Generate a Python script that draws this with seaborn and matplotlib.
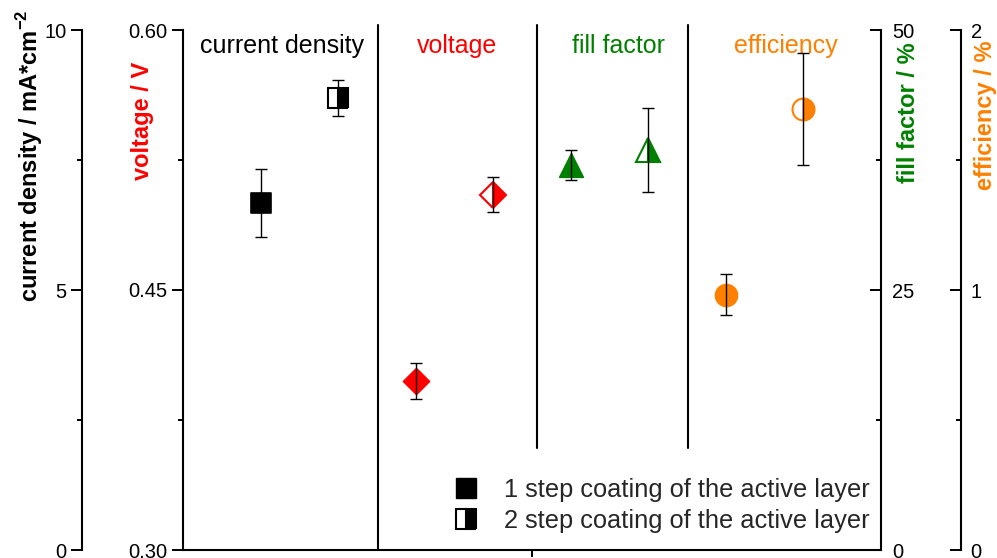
import matplotlib
matplotlib.use("Agg")
import matplotlib.pyplot as plt
from matplotlib.lines import Line2D
import seaborn as sns
import pandas as pd

# ---- data: 1-step vs 2-step coating of the active layer ----
coating = ["1 step coating of the active layer", "2 step coating of the active layer"]
current_density = [6.67, 8.69]          # mA*cm^-2
current_density_err = [0.65, 0.34]
voltage = [0.3975, 0.505]               # V
voltage_err = [0.0101, 0.0101]
fill_factor = [37.0, 38.46]             # %
fill_factor_err = [1.44, 4.04]
efficiency = [0.981, 1.696]             # %
efficiency_err = [0.079, 0.215]

x_current = [1, 2]
x_voltage = [3, 4]
x_fill = [5, 6]
x_eff = [7, 8]

section_titles = ["current density", "voltage", "fill factor", "efficiency"]
section_title_x = [1.28, 3.53, 5.62, 7.77]
separators_x = [2.514, 4.564, 6.51]

RED = "#FF0000"
GREEN = "#008000"
ORANGE = "#FF8000"
BLACK = "#000000"

sns.set_theme(style="ticks")
plt.rcParams["font.family"] = ["Liberation Sans", "DejaVu Sans"]
plt.rcParams["mathtext.fontset"] = "custom"
plt.rcParams["mathtext.rm"] = "Liberation Sans"
plt.rcParams["mathtext.bf"] = "Liberation Sans:bold"

W, H = 997, 558
fig = plt.figure(figsize=(W / 100, H / 100), dpi=100)
L, R, T, B = 183, 881, 30, 550
ax = fig.add_axes([L / W, (H - B) / H, (R - L) / W, (B - T) / H])
ax.set_xlim(0, 9)

ax_j = ax.twinx()
ax_ff = ax.twinx()
ax_eff = ax.twinx()

for a in (ax, ax_j, ax_ff, ax_eff):
    a.set_xlim(0, 9)
    a.set_facecolor("none")
    for s in a.spines.values():
        s.set_visible(False)
        s.set_linewidth(1.5)
        s.set_color(BLACK)

TICK_FS = 14.5
major_kw = dict(which="major", length=8, width=1.4, color=BLACK, labelsize=TICK_FS, labelcolor=BLACK)
minor_kw = dict(which="minor", length=3.6, width=1.4, color=BLACK)

# voltage: main left axis
ax.set_ylim(0.30, 0.60)
ax.set_yticks([0.30, 0.45, 0.60])
ax.set_yticks([0.375, 0.525], minor=True)
ax.set_yticklabels(["0.30", "0.45", "0.60"])
ax.spines["left"].set_visible(True)
ax.spines["bottom"].set_visible(True)
ax.tick_params(axis="y", direction="out", pad=3, **major_kw)
ax.tick_params(axis="y", direction="out", **minor_kw)
ax.set_xticks([4.5])
ax.set_xticklabels([])
ax.tick_params(axis="x", direction="out", length=5, width=1.4, color=BLACK)

# current density: outer left axis
ax_j.set_ylim(0, 10)
ax_j.yaxis.set_ticks_position("left")
ax_j.spines["left"].set_visible(True)
ax_j.spines["left"].set_position(("axes", -0.1447))
ax_j.set_yticks([0, 5, 10])
ax_j.set_yticks([2.5, 7.5], minor=True)
ax_j.tick_params(axis="y", direction="out", pad=3, left=True, right=False,
                 labelleft=True, labelright=False, **major_kw)
ax_j.tick_params(axis="y", direction="out", left=True, right=False, **minor_kw)
ax_j.tick_params(axis="x", bottom=False, labelbottom=False)

# fill factor: right axis
ax_ff.set_ylim(0, 50)
ax_ff.spines["right"].set_visible(True)
ax_ff.set_yticks([0, 25, 50])
ax_ff.set_yticks([12.5, 37.5], minor=True)
ax_ff.tick_params(axis="y", direction="in", pad=8, **major_kw)
ax_ff.tick_params(axis="y", direction="in", **minor_kw)
ax_ff.tick_params(axis="x", bottom=False, labelbottom=False)

# efficiency: outer right axis
ax_eff.set_ylim(0, 2)
ax_eff.spines["right"].set_visible(True)
ax_eff.spines["right"].set_position(("axes", 1.1146))
ax_eff.set_yticks([0, 1, 2])
ax_eff.set_yticks([0.5, 1.5], minor=True)
ax_eff.tick_params(axis="y", direction="in", pad=7, **major_kw)
ax_eff.tick_params(axis="y", direction="in", **minor_kw)
ax_eff.tick_params(axis="x", bottom=False, labelbottom=False)

# ---- markers ----
def draw_pair(a, xs, ys, errs, marker, color, s_full, ms_half):
    df = pd.DataFrame({"x": xs[:1], "y": ys[:1]})
    sns.scatterplot(data=df, x="x", y="y", marker=marker, s=s_full, color=color,
                    edgecolor=color, linewidth=1.2, ax=a, zorder=3, legend=False)
    a.plot(xs[1:], ys[1:], ls="none", marker=marker, ms=ms_half, fillstyle="right",
           markerfacecolor=color, markerfacecoloralt="white", markeredgecolor=color,
           mew=1.5, zorder=3)
    a.errorbar(xs, ys, yerr=errs, fmt="none", ecolor=BLACK, elinewidth=1,
               capsize=4, capthick=1, zorder=4)
    a.set_xlabel("")
    a.set_ylabel("")

draw_pair(ax_j, x_current, current_density, current_density_err, "s", BLACK, 188, 13.7)
draw_pair(ax, x_voltage, voltage, voltage_err, "D", RED, 175, 13.2)
draw_pair(ax_ff, x_fill, fill_factor, fill_factor_err, "^", GREEN, 289, 17)
draw_pair(ax_eff, x_eff, efficiency, efficiency_err, "o", ORANGE, 250, 15.8)

# ---- section separators and titles ----
xt = ax.get_xaxis_transform()
ax.plot([separators_x[0]] * 2, [0, 1.0096], transform=xt, color=BLACK, lw=1.5, clip_on=False)
for sx in separators_x[1:]:
    ax.plot([sx] * 2, [0.196, 1.0096], transform=xt, color=BLACK, lw=1.5, clip_on=False)

title_colors = [BLACK, RED, GREEN, ORANGE]
for tx, txt, c in zip(section_title_x, section_titles, title_colors):
    ax.text(tx, 0.956, txt, transform=xt, ha="center", va="baseline",
            fontsize=18, color=c)

# ---- axis titles ----
LAB_FS = 17
fig.text(30 / W, 1 - 10 / H, r"current density / mA*cm$^{\mathbf{-2}}$", rotation=90,
         ha="center", va="top", fontsize=LAB_FS, fontweight="bold", color=BLACK)
fig.text(142 / W, 1 - 62 / H, "voltage / V", rotation=90, ha="center", va="top",
         fontsize=LAB_FS, fontweight="bold", color=RED)
fig.text(908 / W, 1 - 42 / H, "fill factor / %", rotation=90, ha="center", va="top",
         fontsize=LAB_FS, fontweight="bold", color=GREEN)
fig.text(985 / W, 1 - 41 / H, "efficiency / %", rotation=90, ha="center", va="top",
         fontsize=LAB_FS, fontweight="bold", color=ORANGE)

# ---- legend ----
handles = [
    Line2D([], [], ls="none", marker="s", ms=13.7, color=BLACK, mec=BLACK),
    Line2D([], [], ls="none", marker="s", ms=13.7, fillstyle="right", markerfacecolor=BLACK,
           markerfacecoloralt="white", markeredgecolor=BLACK, mew=1.5),
]
leg = ax_eff.legend(handles, coating, loc="lower right", bbox_to_anchor=(0.984, 0.032),
                    frameon=False, fontsize=18.3, handlelength=1.0, handletextpad=0.98,
                    labelspacing=0.3, borderpad=0, borderaxespad=0)

fig.savefig("out.png", dpi=100)
